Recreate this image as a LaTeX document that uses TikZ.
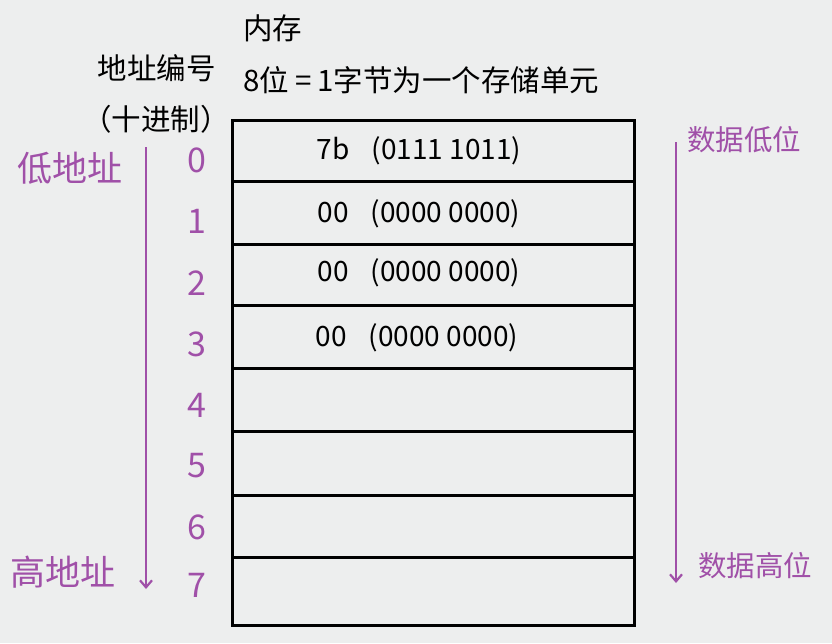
\documentclass[tikz,border=0pt]{standalone}
\usepackage{fontspec}
\setmainfont{Noto Sans CJK SC}
\usetikzlibrary{arrows.meta}
\definecolor{bg}{HTML}{EDEEEE}
\definecolor{pur}{HTML}{A050A8}
\begin{document}
\begin{tikzpicture}[x=1pt,y=-1pt,
  cell/.style={draw=black,line width=3pt,minimum width=402pt,anchor=north west,inner sep=0pt},
  blk/.style={font=\fontsize{29.5}{32}\selectfont,text=black,inner sep=0pt},
  cont/.style={font=\fontsize{28}{30}\selectfont,text=black,inner sep=0pt},
  num/.style={font=\fontsize{34}{36}\selectfont,text=pur,inner sep=0pt},
  plab/.style={font=\fontsize{35}{38}\selectfont,text=pur,inner sep=0pt},
  dlab/.style={font=\fontsize{28.5}{31}\selectfont,text=pur,inner sep=0pt},
  parr/.style={draw=pur,line width=2.2pt,-{Straight Barb[length=7pt,width=12pt,line width=2.2pt]}}]
\fill[bg] (0,0) rectangle (832,643);
\useasboundingbox (0,0) rectangle (832,643);
% memory cells
\node[cell,minimum height=61pt] (c0) at (231,119) {};
\node[cell,minimum height=63pt] (c1) at (231,180) {};
\node[cell,minimum height=61pt] (c2) at (231,243) {};
\node[cell,minimum height=63pt] (c3) at (231,304) {};
\node[cell,minimum height=63pt] (c4) at (231,367) {};
\node[cell,minimum height=64pt] (c5) at (231,430) {};
\node[cell,minimum height=62pt] (c6) at (231,494) {};
\node[cell,minimum height=68pt] (c7) at (231,556) {};
\node[cont] (t0) at (419,151) {7b\hspace{22pt}(0111 1011)};
\node[cont] (t1) at (419,214) {00\hspace{22pt}(0000 0000)};
\node[cont] (t2) at (419,273) {00\hspace{22pt}(0000 0000)};
\node[cont] (t3) at (417,338) {00\hspace{22pt}(0000 0000)};
% headings
\node[blk,anchor=west] (h1) at (243,28) {内存};
\node[blk,anchor=west] (h2) at (243,80) {8位\hspace{6pt}=\hspace{6pt}1字节为一个存储单元};
\node[blk,anchor=east] (h3) at (216,68) {地址编号};
\node[blk,anchor=east] (h4) at (230,119) {（十进制）};
% address numbers
\node[num] (n0) at (197,160) {0};
\node[num] (n1) at (197,221) {1};
\node[num] (n2) at (197,283) {2};
\node[num] (n3) at (197,344) {3};
\node[num] (n4) at (197,405) {4};
\node[num] (n5) at (197,466) {5};
\node[num] (n6) at (197,527) {6};
\node[num] (n7) at (197,585) {7};
% left labels and arrow
\node[plab,anchor=west] (lo) at (17,168) {低地址};
\node[plab,anchor=west] (hi) at (10,572) {高地址};
\coordinate (la) at (146,147);
\coordinate (lb) at (146,589);
\draw[parr] (la) -- (lb);
% right labels and arrow
\coordinate (ra) at (676,142);
\coordinate (rb) at (676,583);
\draw[parr] (ra) -- (rb);
\node[dlab,anchor=west] (dl) at (687,140) {数据低位};
\node[dlab,anchor=west] (dh) at (698,566) {数据高位};
\end{tikzpicture}
\end{document}
